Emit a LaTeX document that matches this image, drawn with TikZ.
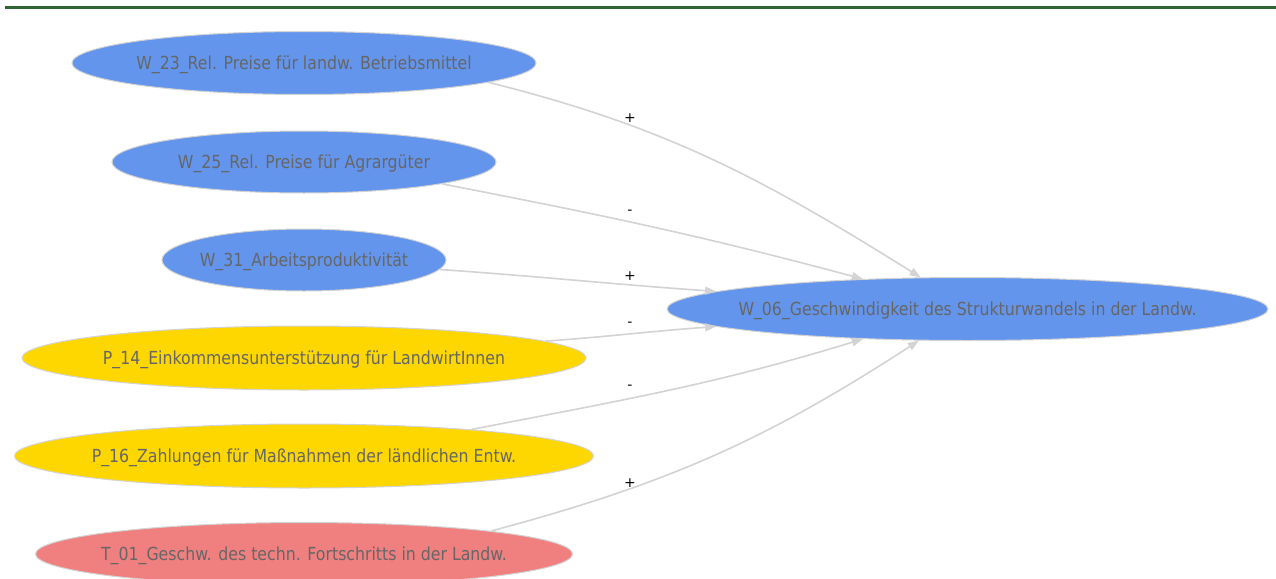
\documentclass[tikz,border=0pt]{standalone}
\usepackage{fontspec}
\usetikzlibrary{shapes.geometric,arrows.meta}
\newfontfamily\nodefont[FakeStretch=0.875]{DejaVu Sans}
\newfontfamily\signfont{DejaVu Sans}
\definecolor{topgreen}{HTML}{2E6532}
\definecolor{wblue}{HTML}{6495ED}
\definecolor{pyellow}{HTML}{FFD700}
\definecolor{tred}{HTML}{F08080}
\definecolor{edgegrey}{HTML}{D3D3D3}
\definecolor{txtgrey}{HTML}{666666}
\newcommand{\fixtext}[1]{\raisebox{-6.5pt}[0pt][0pt]{\makebox[0pt]{#1}}}
\tikzset{
  factor/.style={ellipse, draw=edgegrey, line width=1pt, inner sep=0pt,
    font=\nodefont\fontsize{18}{21}\selectfont, text=txtgrey},
  edge/.style={draw=edgegrey, line width=1.6pt,
    -{Triangle[length=11pt,width=8pt]}},
  sign/.style={font=\signfont\fontsize{14}{15}\selectfont, text=black, inner sep=0pt},
}
\begin{document}
\begin{tikzpicture}[x=1pt,y=-1pt]
\clip (0,0) rectangle (1276,578);
\fill[white] (0,0) rectangle (1276,578);
\draw[topgreen, line width=3pt] (5,8) -- (1276,8);

\node[factor, fill=wblue, minimum width=464pt, minimum height=63pt] (w23) at (304,63) {\fixtext{W\_23\_Rel. Preise für landw. Betriebsmittel}};
\node[factor, fill=wblue, minimum width=384pt, minimum height=62pt] (w25) at (304,162) {\fixtext{W\_25\_Rel. Preise für Agrargüter}};
\node[factor, fill=wblue, minimum width=284pt, minimum height=62pt] (w31) at (304,260) {\fixtext{W\_31\_Arbeitsproduktivität}};
\node[factor, fill=pyellow, minimum width=564pt, minimum height=64pt] (p14) at (304,358) {\fixtext{P\_14\_Einkommensunterstützung für LandwirtInnen}};
\node[factor, fill=pyellow, minimum width=579pt, minimum height=64pt] (p16) at (304,456) {\fixtext{P\_16\_Zahlungen für Maßnahmen der ländlichen Entw.}};
\node[factor, fill=tred, minimum width=537pt, minimum height=63pt] (t01) at (304,554) {\fixtext{T\_01\_Geschw. des techn. Fortschritts in der Landw.}};
\node[factor, fill=wblue, minimum width=601pt, minimum height=63pt] (w06) at (967.5,309) {\fixtext{W\_06\_Geschwindigkeit des Strukturwandels in der Landw.}};

\draw[edge] (w23.-6.7) to[out=-14, in=148] (w06.146);
\draw[edge] (w25.-9) to[out=-11, in=165] (w06.164);
\draw[edge] (w31.-4) to[out=-4, in=176] (w06.176);
\draw[edge] (p14.4) to[out=4, in=184] (w06.184);
\draw[edge] (p16.9.3) to[out=11, in=197] (w06.196);
\draw[edge] (t01.7.6) to[out=15, in=213] (w06.213);

\node[sign] (s1) at (630,118) {+};
\node[sign] (s2) at (630,212) {-};
\node[sign] (s3) at (630,276) {+};
\node[sign] (s4) at (630,324) {-};
\node[sign] (s5) at (630,387) {-};
\node[sign] (s6) at (630,483) {+};
\end{tikzpicture}
\end{document}
